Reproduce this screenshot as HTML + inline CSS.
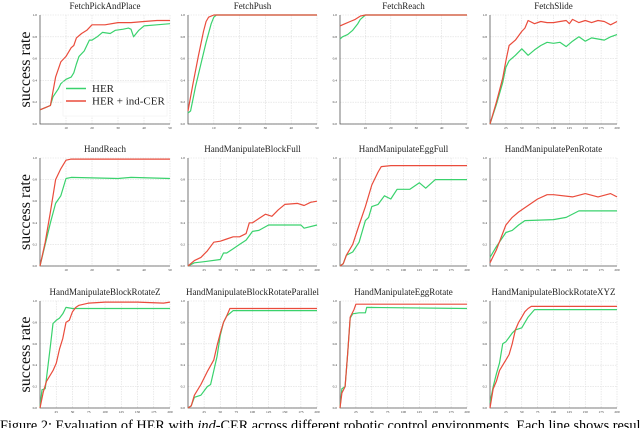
<!DOCTYPE html>
<html><head><meta charset="utf-8"><style>
html,body{margin:0;padding:0;background:#fff;width:640px;height:428px;overflow:hidden}
svg{display:block;font-family:"Liberation Serif",serif}
</style></head><body>
<svg id="fig" width="640" height="428" viewBox="0 0 640 428" xmlns="http://www.w3.org/2000/svg">
<text x="0" y="430" font-size="15" textLength="650" lengthAdjust="spacingAndGlyphs">Figure 2: Evaluation of HER with <tspan font-style="italic">ind</tspan>-CER across different robotic control environments. Each line shows results</text>
</svg>
<script>
const titles=["FetchPickAndPlace","FetchPush","FetchReach","FetchSlide","HandReach","HandManipulateBlockFull","HandManipulateEggFull","HandManipulatePenRotate","HandManipulateBlockRotateZ","HandManipulateBlockRotateParallel","HandManipulateEggRotate","HandManipulateBlockRotateXYZ"];
const xMaxes=[50,50,50,200,50,200,200,200,200,200,200,200];
const yTicks=[0,0.2,0.4,0.6,0.8,1.0];
const xTicks50=[10,20,30,40,50];
const xTicks200=[25,50,75,100,125,150,175,200];
const herSeries=[
[[0,.13],[2,.15],[4,.17],[5,.25],[7,.32],[8,.37],[10,.41],[12,.43],[13,.47],[14,.55],[15,.62],[17,.67],[19,.77],[20,.77],[22,.80],[24,.84],[27,.83],[29,.86],[32,.87],[34,.88],[35,.87],[36,.80],[38,.86],[40,.90],[45,.91],[50,.92]],
[[0,.10],[1,.12],[3,.35],[5,.55],[7,.75],[9,.92],[10,.98],[11,1],[50,1]],
[[0,.78],[1,.80],[3,.82],[5,.86],[7,.92],[8,.96],[9,.98],[10,1],[50,1]],
[[0,0],[10,.18],[20,.38],[25,.52],[30,.58],[40,.63],[50,.69],[60,.63],[70,.68],[80,.72],[90,.75],[100,.74],[110,.75],[120,.71],[130,.76],[140,.80],[150,.76],[160,.79],[170,.78],[180,.77],[190,.80],[200,.82]],
[[0,0],[2,.2],[4,.4],[6,.58],[8,.65],[10,.81],[12,.82],[30,.81],[35,.82],[50,.81]],
[[0,0],[10,.03],[25,.04],[50,.06],[55,.12],[60,.12],[70,.16],[80,.20],[90,.24],[100,.32],[110,.33],[125,.38],[150,.38],[175,.38],[180,.35],[200,.38]],
[[0,0],[5,.02],[10,.1],[20,.13],[30,.22],[40,.42],[45,.45],[50,.55],[60,.57],[70,.65],[80,.62],[90,.71],[110,.71],[125,.77],[135,.72],[150,.80],[200,.80]],
[[0,.08],[10,.18],[25,.31],[35,.33],[45,.38],[55,.42],[100,.43],[120,.45],[140,.51],[200,.51]],
[[0,0],[3,.17],[8,.18],[12,.38],[16,.58],[20,.79],[25,.82],[30,.84],[35,.88],[40,.94],[50,.93],[60,.93],[100,.93],[200,.93]],
[[0,0],[5,.02],[10,.1],[20,.12],[30,.2],[35,.22],[40,.35],[45,.48],[50,.68],[55,.8],[60,.86],[70,.91],[200,.91]],
[[0,0],[3,.18],[8,.2],[12,.5],[16,.84],[20,.88],[30,.89],[40,.89],[42,.94],[200,.93]],
[[0,.05],[5,.2],[10,.32],[15,.42],[20,.6],[25,.62],[30,.66],[35,.7],[40,.73],[50,.75],[60,.85],[70,.92],[200,.92]]
];
const cerSeries=[
[[0,.13],[2,.15],[4,.17],[5,.30],[6,.43],[8,.57],[10,.62],[12,.70],[13,.72],[14,.79],[16,.83],[18,.86],[20,.91],[25,.91],[30,.93],[35,.93],[40,.94],[45,.95],[50,.95]],
[[0,.12],[2,.38],[4,.62],[6,.85],[7,.94],[8,.98],[10,1],[50,1]],
[[0,.90],[2,.92],[4,.94],[6,.96],[8,.99],[10,1],[50,1]],
[[0,0],[10,.2],[20,.42],[25,.58],[30,.72],[40,.77],[50,.85],[55,.88],[60,.95],[70,.92],[80,.94],[90,.93],[100,.93],[110,.94],[120,.95],[125,.92],[130,.96],[140,.93],[150,.95],[160,.93],[170,.95],[180,.94],[190,.91],[200,.94]],
[[0,0],[2,.22],[4,.5],[6,.8],[8,.9],[10,.98],[12,.99],[50,.99]],
[[0,0],[10,.05],[20,.08],[30,.14],[40,.22],[50,.23],[60,.25],[70,.27],[80,.27],[90,.30],[95,.40],[100,.40],[110,.44],[120,.48],[130,.46],[140,.52],[150,.57],[170,.58],[180,.56],[190,.59],[200,.6]],
[[0,0],[5,.02],[10,.1],[20,.2],[30,.38],[40,.55],[50,.75],[60,.87],[65,.92],[80,.93],[200,.93]],
[[0,.03],[10,.15],[25,.38],[35,.45],[45,.50],[60,.56],[75,.62],[90,.66],[100,.66],[130,.64],[150,.67],[170,.64],[190,.67],[200,.64]],
[[0,0],[5,.15],[10,.25],[20,.35],[25,.42],[30,.55],[35,.65],[40,.80],[45,.82],[50,.90],[55,.94],[60,.96],[75,.98],[100,.99],[150,.99],[190,.98],[200,.99]],
[[0,0],[5,.02],[10,.12],[20,.22],[30,.34],[40,.45],[45,.58],[50,.7],[55,.8],[60,.86],[65,.93],[200,.93]],
[[0,0],[3,.14],[8,.2],[12,.5],[16,.85],[22,.92],[25,.97],[200,.97]],
[[0,0],[5,.18],[10,.25],[15,.35],[20,.4],[25,.45],[30,.5],[35,.6],[40,.73],[45,.8],[50,.85],[55,.9],[60,.93],[65,.95],[200,.95]]
];
const colsX=[[40,170],[188,317],[340,467],[490,617]];
const rowsY=[[15,124],[158,266],[301,408]];
const NS="http://www.w3.org/2000/svg";
const svg=document.getElementById('fig');
function mk(tag,attrs,parent){const e=document.createElementNS(NS,tag);for(const k in attrs)e.setAttribute(k,attrs[k]);(parent||svg).appendChild(e);return e;}
titles.forEach((t,i)=>{
  const [x0,x1]=colsX[i%4],[y0,y1]=rowsY[Math.floor(i/4)];
  const xm=xMaxes[i];
  const sx=v=>x0+(x1-x0)*v/xm, sy=v=>y1-(y1-y0)*v;
  const g=mk('g',{});
  
  
  const tt=mk('text',{x:(x0+x1)/2,y:y0-6,'font-size':9,'text-anchor':'middle',fill:'#222'},g);tt.textContent=t;
  
  
  const xt=xm===50?xTicks50:xTicks200;
  yTicks.forEach(v=>{
    const l=mk('line',{x1:x0,x2:x1,y1:sy(v),y2:sy(v),stroke:'#ddd','stroke-width':0.6,'stroke-dasharray':'1.5,1'},g);
    
    
    const lb=mk('text',{x:x0-3,y:sy(v)+1,'font-size':3.5,'text-anchor':'end',fill:'#333'},g);lb.textContent=v.toFixed(1);
    
    
  });
  xt.forEach(v=>{
    const l=mk('line',{x1:sx(v),x2:sx(v),y1:y0,y2:y1,stroke:'#ddd','stroke-width':0.6,'stroke-dasharray':'1.5,1'},g);
    
    
    const lb=mk('text',{x:sx(v),y:y1+5,'font-size':3.5,'text-anchor':'middle',fill:'#333'},g);lb.textContent=v;
    
    
  });
  const ax=mk('path',{d:`M${x0},${y0}V${y1}H${x1}`,fill:'none',stroke:'#555','stroke-width':0.8},g);
  
  
  [[herSeries[i],'#3ad26d','her-line'],[cerSeries[i],'#ea4c3c','cer-line']].forEach(([s,c,n])=>{
    const p=mk('path',{d:s.map((q,k)=>(k?'L':'M')+sx(q[0]).toFixed(1)+','+sy(q[1]).toFixed(1)).join(''),fill:'none',stroke:c,'stroke-width':1.2,'stroke-linejoin':'round'},g);
    
    
  });
});
[0,1,2].forEach(r=>{
  const [y0,y1]=rowsY[r];const cy=(y0+y1)/2;
  const t=mk('text',{x:0,y:0,'font-size':16,'text-anchor':'middle',fill:'#111',transform:`translate(30,${cy}) rotate(-90)`});
  t.textContent='success rate';
  
  
});
const lg=mk('g',{});


mk('rect',{x:63,y:82,width:104,height:34,fill:'#fff','fill-opacity':0.9,stroke:'#eee','stroke-width':0.5},lg);
[['HER','#3ad26d',92],['HER + ind-CER','#ea4c3c',104.5]].forEach(([t,c,y])=>{
  const l=mk('line',{x1:66,x2:86,y1:y-3.5,y2:y-3.5,stroke:c,'stroke-width':1.5},lg);
  
  
  const tx=mk('text',{x:92,y:y,'font-size':11,fill:'#222'},lg);tx.textContent=t;
  
  
});
</script>
</body></html>
